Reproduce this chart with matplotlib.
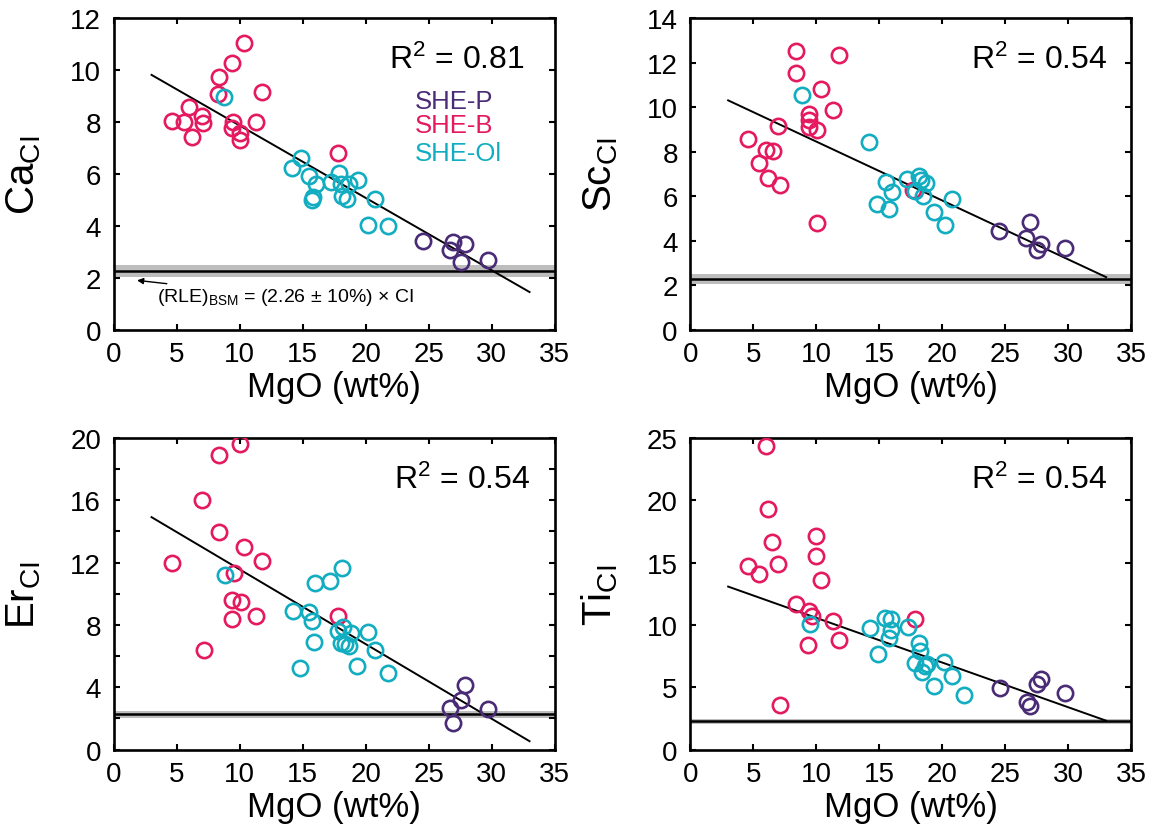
import matplotlib
matplotlib.use("Agg")
import matplotlib.pyplot as plt

plt.rcParams['font.family'] = ['Liberation Sans', 'DejaVu Sans']
plt.rcParams['mathtext.fontset'] = 'custom'
plt.rcParams['mathtext.rm'] = 'Liberation Sans'
plt.rcParams['mathtext.it'] = 'Liberation Sans:italic'
plt.rcParams['mathtext.bf'] = 'Liberation Sans:bold'

# colours of the three groups
c_p = '#4a2c76'
c_b = '#e5195f'
c_ol = '#12adc0'

# --- Ca ---
ca_b_x = [10.34, 9.39, 8.36, 8.3, 11.8, 6.0, 6.98, 7.11, 4.6, 5.58, 6.21, 9.49, 9.41, 10.02, 10.02, 11.29, 17.8]
ca_b_y = [11.05, 10.25, 9.71, 9.09, 9.14, 8.59, 8.23, 7.94, 8.05, 8.01, 7.42, 8.0, 7.78, 7.59, 7.3, 8.01, 6.81]
ca_ol_x = [8.78, 14.84, 14.18, 15.5, 16.03, 15.84, 15.74, 17.22, 17.9, 18.06, 18.7, 19.36, 18.14, 18.49, 20.76, 20.21, 21.77]
ca_ol_y = [8.95, 6.62, 6.22, 5.92, 5.59, 5.12, 5.0, 5.69, 6.03, 5.6, 5.59, 5.78, 5.15, 5.05, 5.05, 4.05, 3.98]
ca_p_x = [24.52, 26.95, 27.9, 26.67, 27.54, 29.73]
ca_p_y = [3.4, 3.36, 3.3, 3.07, 2.62, 2.67]

# --- Sc ---
sc_b_x = [8.39, 11.83, 8.39, 10.4, 11.35, 9.4, 9.42, 9.4, 10.03, 6.98, 4.6, 6.0, 6.59, 5.45, 6.19, 7.14, 10.03, 17.7]
sc_b_y = [12.54, 12.36, 11.54, 10.8, 9.85, 9.69, 9.43, 9.12, 8.98, 9.15, 8.56, 8.09, 8.01, 7.49, 6.82, 6.52, 4.8, 6.29]
sc_ol_x = [8.84, 14.21, 15.51, 16.01, 14.82, 15.77, 17.22, 18.13, 18.29, 18.71, 17.86, 18.49, 19.34, 20.19, 20.79]
sc_ol_y = [10.55, 8.43, 6.65, 6.17, 5.65, 5.44, 6.77, 6.89, 6.74, 6.6, 6.23, 5.99, 5.3, 4.72, 5.87]
sc_p_x = [24.52, 26.96, 26.64, 27.83, 27.54, 29.74]
sc_p_y = [4.45, 4.83, 4.13, 3.86, 3.6, 3.66]

# --- Er ---
er_b_x = [10.0, 8.38, 7.01, 8.38, 10.34, 11.79, 4.6, 9.57, 9.41, 10.1, 11.27, 9.39, 7.17, 17.83]
er_b_y = [19.62, 18.92, 16.05, 13.99, 13.03, 12.13, 11.98, 11.32, 9.61, 9.5, 8.6, 8.37, 6.4, 8.56]
er_ol_x = [8.86, 16.0, 17.19, 18.14, 14.2, 15.5, 15.76, 15.87, 14.81, 17.83, 18.22, 18.81, 18.02, 18.36, 18.7, 20.18, 20.76, 19.31, 21.77]
er_ol_y = [11.21, 10.7, 10.81, 11.64, 8.92, 8.82, 8.26, 6.89, 5.24, 7.6, 7.86, 7.49, 6.85, 6.76, 6.64, 7.57, 6.42, 5.39, 4.92]
er_p_x = [27.86, 27.54, 26.67, 29.68, 26.9]
er_p_y = [4.15, 3.19, 2.68, 2.61, 1.69]

# --- Ti ---
ti_b_x = [6.01, 6.19, 6.46, 4.6, 5.48, 6.98, 10.0, 10.0, 10.4, 8.39, 9.4, 9.63, 11.35, 11.83, 9.37, 7.12, 17.86]
ti_b_y = [24.35, 19.28, 16.69, 14.74, 14.07, 14.93, 17.14, 15.54, 13.59, 11.67, 11.13, 10.73, 10.28, 8.81, 8.38, 3.57, 10.44]
ti_ol_x = [9.47, 14.24, 14.87, 15.43, 15.9, 15.95, 15.77, 17.25, 18.13, 18.23, 17.83, 18.81, 18.63, 18.36, 20.16, 20.75, 19.34, 21.75]
ti_ol_y = [10.06, 9.72, 7.64, 10.52, 10.47, 9.61, 8.94, 9.8, 8.59, 7.92, 6.92, 6.86, 6.67, 6.19, 7.04, 5.87, 5.07, 4.4]
ti_p_x = [24.56, 27.49, 27.83, 26.7, 26.96, 29.74]
ti_p_y = [4.91, 5.26, 5.66, 3.79, 3.52, 4.51]

# regression line end points
fit_x = [3, 33]
ca_fit = [9.81, 1.45]
sc_fit = [10.3, 2.36]
er_fit = [14.92, 0.54]
ti_fit = [13.08, 2.32]

r2 = ['0.81', '0.54', '0.54', '0.54']
rle = 2.26

fig = plt.figure(figsize=(11.63, 8.37), dpi=100)
pos = [[0.0978, 0.6049, 0.3792, 0.3724],
       [0.5936, 0.6049, 0.3792, 0.3724],
       [0.0978, 0.1032, 0.3792, 0.3723],
       [0.5936, 0.1032, 0.3792, 0.3723]]

panels = [
    ('Ca', ca_b_x, ca_b_y, ca_ol_x, ca_ol_y, ca_p_x, ca_p_y, ca_fit, 12, list(range(0, 13, 2)), 2),
    ('Sc', sc_b_x, sc_b_y, sc_ol_x, sc_ol_y, sc_p_x, sc_p_y, sc_fit, 14, list(range(0, 15, 2)), 2),
    ('Er', er_b_x, er_b_y, er_ol_x, er_ol_y, er_p_x, er_p_y, er_fit, 20, list(range(0, 21, 2)), 4),
    ('Ti', ti_b_x, ti_b_y, ti_ol_x, ti_ol_y, ti_p_x, ti_p_y, ti_fit, 25, list(range(0, 26, 5)), 5),
]

for i, (el, bx, by, ox, oy, px, py, fit, ymax, yt, lab_step) in enumerate(panels):
    ax = fig.add_axes(pos[i])
    ax.axhspan(rle * 0.9, rle * 1.1, color='#bdbdbd', lw=0, zorder=1)
    ax.axhline(rle, color='black', lw=1.8, zorder=2)
    ax.plot(fit_x, fit, color='black', lw=1.4, zorder=3)
    kw = dict(ls='none', marker='o', mfc='none', ms=11, mew=1.9, zorder=4)
    ax.plot(bx, by, mec=c_b, **kw)
    ax.plot(ox, oy, mec=c_ol, **kw)
    ax.plot(px, py, mec=c_p, **kw)

    ax.set_xlim(0, 35)
    ax.set_ylim(0, ymax)
    ax.set_xticks(range(0, 36, 5))
    ax.set_yticks(yt)
    ax.set_yticklabels([str(v) if v % lab_step == 0 else '' for v in yt])
    ax.tick_params(direction='in', top=True, right=True, length=4.5, width=1.5,
                   labelsize=20)
    ax.tick_params(axis='x', pad=8)
    ax.tick_params(axis='y', pad=9)
    for s in ax.spines.values():
        s.set_linewidth(1.9)

    ax.set_xlabel('MgO (wt%)', fontsize=25, labelpad=2)
    ax.set_ylabel(el + r'$_{\mathrm{CI}}$', fontsize=29)
    ax.yaxis.set_label_coords(-0.16, 0.5)

    xr = 0.933 if i == 0 else 0.946
    ax.text(xr, 0.868, r'R$^{\mathrm{2}}$ = ' + r2[i], transform=ax.transAxes,
            ha='right', va='center', fontsize=23)

    if i == 0:
        ax.text(23.9, 8.8, 'SHE-P', color=c_p, fontsize=18.5, va='center')
        ax.text(23.9, 7.88, 'SHE-B', color=c_b, fontsize=18.5, va='center')
        ax.text(23.9, 6.82, 'SHE-Ol', color=c_ol, fontsize=18.5, va='center')
        ax.annotate(r'(RLE)$_{\mathrm{BSM}}$ = (2.26 ± 10%) × CI', xy=(1.85, 1.9),
                    xytext=(3.4, 1.26), fontsize=14, va='center',
                    arrowprops=dict(arrowstyle='-|>', color='black', lw=1,
                                    shrinkA=0, shrinkB=0, mutation_scale=9))

fig.savefig('out.png', dpi=100)
